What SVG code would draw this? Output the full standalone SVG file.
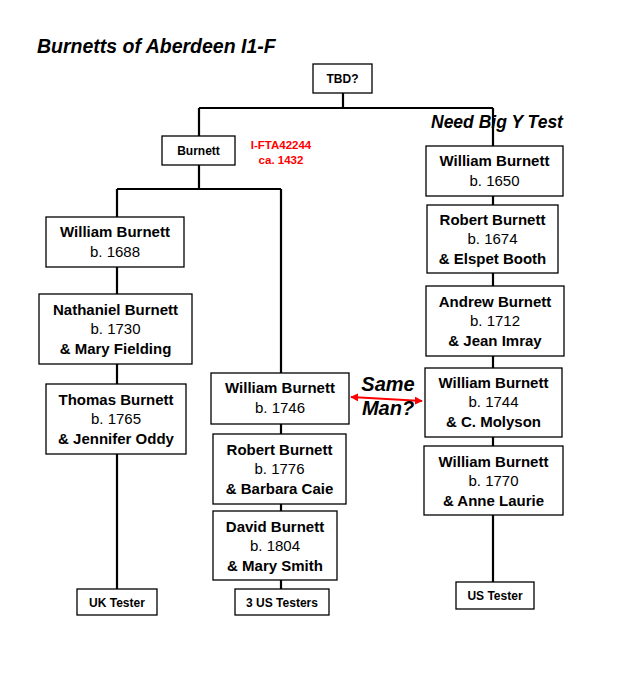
<svg xmlns="http://www.w3.org/2000/svg" width="625" height="677" viewBox="0 0 625 677">
<defs>
<style>
.box{fill:#fff;stroke:#000;stroke-width:1.3}
.ln{stroke:#000;stroke-width:2.2;fill:none}
.t{font-family:"Liberation Sans",Arial,sans-serif;font-size:15px;text-anchor:middle;fill:#000}
.b{font-weight:bold}
.s{font-family:"Liberation Sans",Arial,sans-serif;font-size:12px;font-weight:bold;text-anchor:middle;fill:#000}
.red{font-family:"Liberation Sans",Arial,sans-serif;font-size:11.5px;font-weight:bold;text-anchor:middle;fill:#ff0000}
.bi{font-family:"Liberation Sans",Arial,sans-serif;font-weight:bold;font-style:italic;fill:#000}
</style>
<marker id="ah" viewBox="0 0 10 10" refX="9" refY="5" markerWidth="4" markerHeight="4" orient="auto-start-reverse">
<path d="M0,0 L10,5 L0,10 z" fill="#ff0000"/>
</marker>
</defs>
<rect width="625" height="677" fill="#fff"/>
<text class="bi" x="37" y="53" font-size="19.5">Burnetts of Aberdeen I1-F</text>
<text class="bi" x="431" y="128" font-size="17.5">Need Big Y Test</text>
<g id="connectors">
<path class="ln" d="M343,93 V108 M199,108 H493 M199,108 V136 M493,108 V146"/>
<path class="ln" d="M199,165 V189 M117,189 H281 M117,189 V217 M281,189 V373"/>
<path class="ln" d="M117,267 V294 M117,364 V384 M117,454 V589"/>
<path class="ln" d="M281,424 V434 M281,504 V511 M281,580 V589"/>
<path class="ln" d="M493,196 V205 M493,273 V286 M493,356 V368 M493,437 V446 M493,515 V582"/>
<line x1="351" y1="397" x2="422" y2="401" stroke="#ff0000" stroke-width="2" marker-start="url(#ah)" marker-end="url(#ah)"/>
</g>
<g id="tbd"><rect class="box" x="313" y="64" width="59" height="29"/><text class="s" x="342.5" y="83">TBD?</text></g>
<g id="burnett"><rect class="box" x="162" y="136" width="73" height="29"/><text class="s" x="198.5" y="155">Burnett</text></g>
<g id="haplo"><text class="red" x="281" y="149">I-FTA42244</text><text class="red" x="281" y="164">ca. 1432</text></g>
<g id="william1688"><rect class="box" x="46" y="217" width="138" height="50"/><text class="t b" x="115" y="237">William Burnett</text><text class="t" x="115" y="257">b. 1688</text></g>
<g id="nathaniel1730"><rect class="box" x="39" y="294" width="153" height="70"/><text class="t b" x="115.5" y="315">Nathaniel Burnett</text><text class="t" x="115.5" y="334">b. 1730</text><text class="t b" x="115.5" y="354">&amp; Mary Fielding</text></g>
<g id="thomas1765"><rect class="box" x="46" y="384" width="140" height="70"/><text class="t b" x="116" y="405">Thomas Burnett</text><text class="t" x="116" y="424">b. 1765</text><text class="t b" x="116" y="444">&amp; Jennifer Oddy</text></g>
<g id="uktester"><rect class="box" x="77" y="589" width="80" height="26"/><text class="s" x="117" y="607">UK Tester</text></g>
<g id="william1746"><rect class="box" x="211" y="373" width="138" height="51"/><text class="t b" x="280" y="393">William Burnett</text><text class="t" x="280" y="413">b. 1746</text></g>
<g id="robert1776"><rect class="box" x="213" y="434" width="133" height="70"/><text class="t b" x="279.5" y="455">Robert Burnett</text><text class="t" x="279.5" y="474">b. 1776</text><text class="t b" x="279.5" y="494">&amp; Barbara Caie</text></g>
<g id="david1804"><rect class="box" x="213" y="511" width="124" height="69"/><text class="t b" x="275" y="532">David Burnett</text><text class="t" x="275" y="551">b. 1804</text><text class="t b" x="275" y="571">&amp; Mary Smith</text></g>
<g id="ustesters3"><rect class="box" x="235" y="589" width="94" height="26"/><text class="s" x="282" y="607">3 US Testers</text></g>
<g id="william1650"><rect class="box" x="426" y="146" width="137" height="50"/><text class="t b" x="494.5" y="166">William Burnett</text><text class="t" x="494.5" y="186">b. 1650</text></g>
<g id="robert1674"><rect class="box" x="427" y="205" width="131" height="68"/><text class="t b" x="492.5" y="225">Robert Burnett</text><text class="t" x="492.5" y="244">b. 1674</text><text class="t b" x="492.5" y="264">&amp; Elspet Booth</text></g>
<g id="andrew1712"><rect class="box" x="426" y="286" width="138" height="70"/><text class="t b" x="495" y="307">Andrew Burnett</text><text class="t" x="495" y="326">b. 1712</text><text class="t b" x="495" y="346">&amp; Jean Imray</text></g>
<g id="william1744"><rect class="box" x="425" y="368" width="137" height="69"/><text class="t b" x="493.5" y="388">William Burnett</text><text class="t" x="493.5" y="407">b. 1744</text><text class="t b" x="493.5" y="427">&amp; C. Molyson</text></g>
<g id="william1770"><rect class="box" x="424" y="446" width="139" height="69"/><text class="t b" x="493.5" y="467">William Burnett</text><text class="t" x="493.5" y="486">b. 1770</text><text class="t b" x="493.5" y="506">&amp; Anne Laurie</text></g>
<g id="ustester"><rect class="box" x="456" y="582" width="78" height="27"/><text class="s" x="495" y="600">US Tester</text></g>
<g id="sameman"><text class="bi" x="388" y="391" font-size="20" text-anchor="middle">Same</text><text class="bi" x="388" y="415" font-size="20" text-anchor="middle">Man?</text></g>
</svg>
